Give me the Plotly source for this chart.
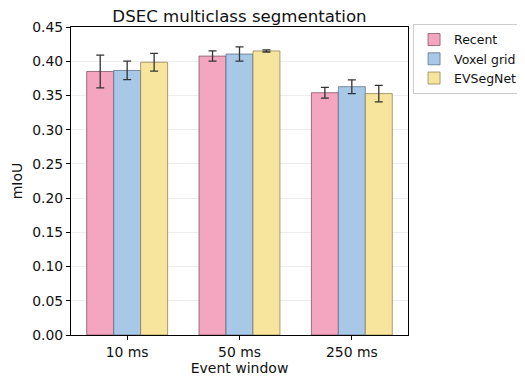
import plotly.graph_objects as go

categories = ["10 ms", "50 ms", "250 ms"]
series_names = ["Recent", "Voxel grid", "EVSegNet"]
recent = [0.385, 0.4075, 0.354]
recent_err = [0.024, 0.0075, 0.0078]
voxel = [0.3865, 0.4105, 0.3628]
voxel_err = [0.0135, 0.0104, 0.010]
evseg = [0.3985, 0.415, 0.3527]
evseg_err = [0.013, 0.0015, 0.012]
y_ticks = [0.0, 0.05, 0.10, 0.15, 0.20, 0.25, 0.30, 0.35, 0.40, 0.45]

colors = ["#F4A6C0", "#A8C8E7", "#F8E59D"]
edges = ["rgba(120,80,95,0.75)", "rgba(90,110,135,0.75)", "rgba(140,125,80,0.75)"]

FONT = "DejaVu Sans"
W, H = 517, 371  # page body has an 8px margin
L, R, T, B = 63, 117, 19, 44

fig = go.Figure()
for name, vals, errs, c, e in zip(series_names, [recent, voxel, evseg],
                                  [recent_err, voxel_err, evseg_err], colors, edges):
    fig.add_trace(go.Bar(
        x=categories, y=vals, name=name,
        marker=dict(color=c, line=dict(color=e, width=1)),
        error_y=dict(type="data", array=errs, visible=True, color="#333333",
                     thickness=1.3, width=4),
    ))

fig.update_layout(
    width=W, height=H,
    margin=dict(l=L, r=R, t=T, b=B, autoexpand=False),
    plot_bgcolor="white", paper_bgcolor="white",
    barmode="group", bargap=0.28, bargroupgap=0,
    font=dict(family=FONT, size=14, color="#111111"),
    title=dict(text="DSEC multiclass segmentation", x=(L + (W - R)) / 2 / W,
               xanchor="center", yref="container", y=1 - 2 / H, yanchor="top",
               pad=dict(t=0, b=0),
               font=dict(size=16.6, family=FONT, color="#111111")),
    legend=dict(x=1.015, xanchor="left", y=1.01, yanchor="top",
                bordercolor="rgba(0,0,0,0.2)", borderwidth=1,
                font=dict(size=12.5, family=FONT), tracegroupgap=0,
                itemwidth=30),
    showlegend=True,
)
fig.update_xaxes(
    range=[-0.5, 2.5], showline=True, linecolor="black", linewidth=1, mirror=True,
    ticks="outside", ticklen=4, tickcolor="black", showgrid=False, automargin=False,
    title=dict(text="Event window", font=dict(size=14, family=FONT), standoff=3),
    tickfont=dict(size=13.9),
)
fig.update_yaxes(
    range=[0, 0.45], tickvals=y_ticks, ticktext=[f"{v:.2f}" for v in y_ticks],
    showline=True, linecolor="black", linewidth=1, mirror=True,
    ticks="outside", ticklen=4, tickcolor="black", automargin=False,
    showgrid=True, gridcolor="rgba(0,0,0,0.07)", gridwidth=1, zeroline=False,
    title=dict(text="mIoU", font=dict(size=14, family=FONT), standoff=6),
    tickfont=dict(size=13.9),
)
fig.write_html("out.html")
